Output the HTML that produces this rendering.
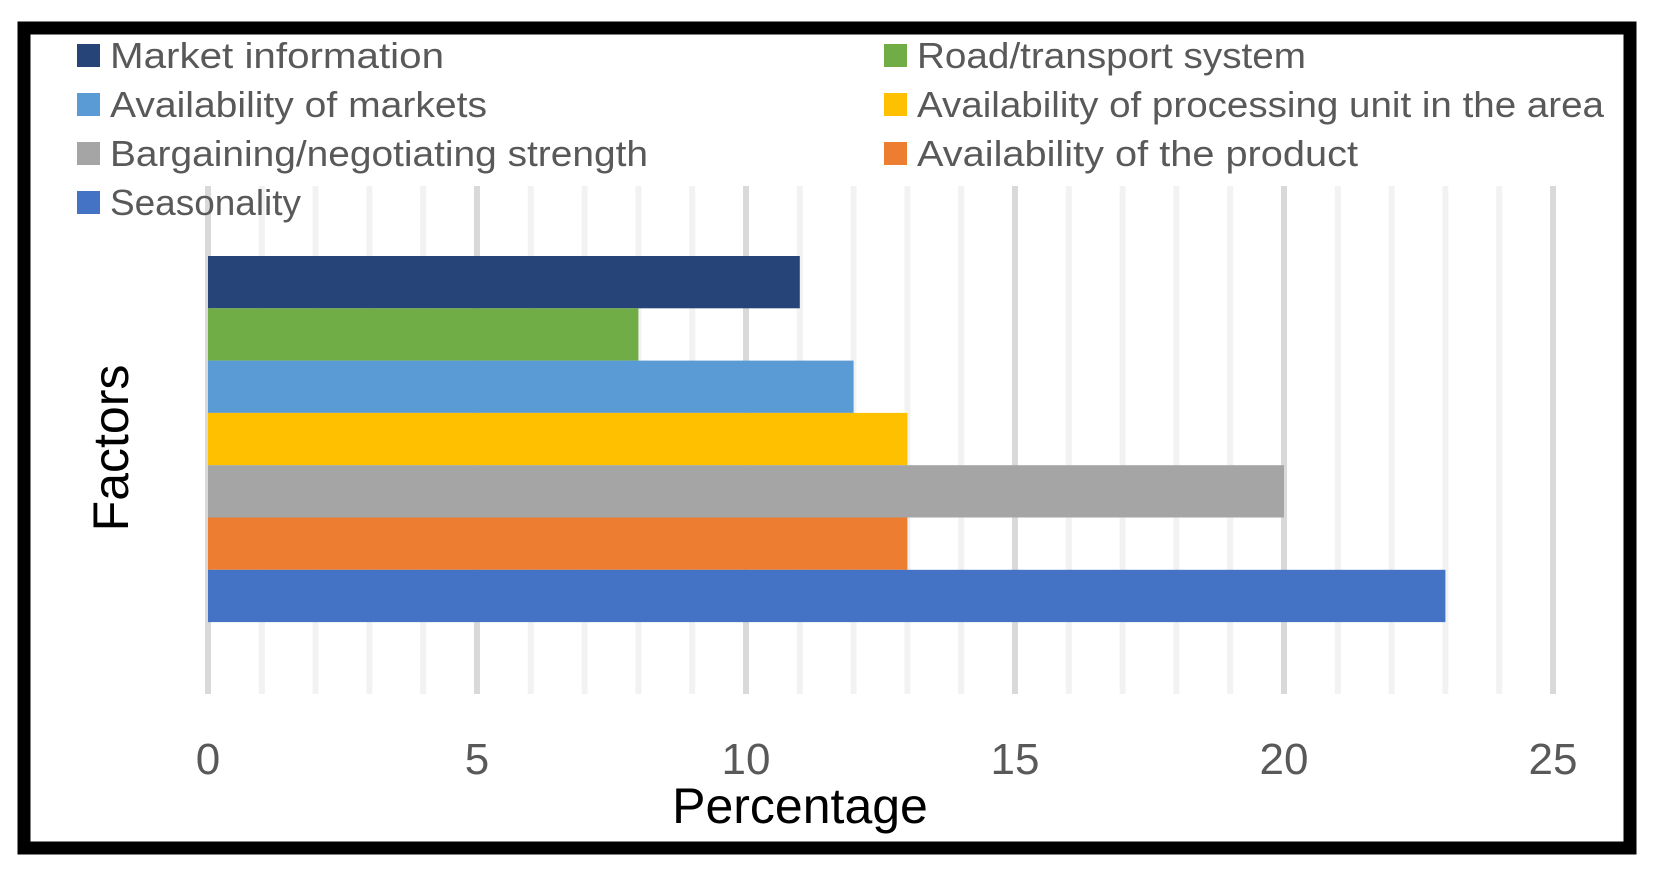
<!DOCTYPE html>
<html><head><meta charset="utf-8"><style>
body{margin:0;background:#fff;}
svg{display:block;font-family:"Liberation Sans",sans-serif;}
</style></head><body>
<svg id="chart" width="1656" height="876" viewBox="0 0 1656 876">
<rect x="24" y="28" width="1606" height="820" fill="#fff" stroke="#000" stroke-width="13"/>
<g id="grid"></g>
<g id="bars"></g>
<g id="ticks"></g>
<g id="legend"></g>
<text x="800" y="823" font-size="50" text-anchor="middle" fill="#000">Percentage</text>
<text transform="translate(128,448) rotate(-90)" font-size="50" text-anchor="middle" fill="#000">Factors</text>
</svg>
<script>
const categories=["Market information","Road/transport system","Availability of markets","Availability of processing unit in the area","Bargaining/negotiating strength","Availability of the product","Seasonality"];
const values=[11,8,12,13,20,13,23];
const colors=["#264478","#70AD47","#5B9BD5","#FFC000","#A5A5A5","#ED7D31","#4472C4"];
const tickLabels=[0,5,10,15,20,25];
const NS="http://www.w3.org/2000/svg";
const x0=208,unit=53.8,gTop=186,gBot=694,barTop=256,barH=52.3;
const X=v=>x0+v*unit;
function mk(tag,attrs,parent){const e=document.createElementNS(NS,tag);for(const k in attrs)e.setAttribute(k,attrs[k]);document.getElementById(parent).appendChild(e);return e;}
for(let i=0;i<=25;i++){
  const l=mk("line",{x1:X(i),x2:X(i),y1:gTop,y2:gBot,stroke:i%5==0?"#d9d9d9":"#f2f2f2","stroke-width":6},"grid");
  
  
}
values.forEach((v,i)=>{
  const r=mk("rect",{x:X(0),y:barTop+i*barH,width:X(v)-X(0),height:barH,fill:colors[i]},"bars");
  
  
});
tickLabels.forEach(t=>{
  const e=mk("text",{x:X(t),y:774,"font-size":44,"text-anchor":"middle",fill:"#595959"},"ticks");
  e.textContent=t;
  
  
});
const order=[0,2,4,6,1,3,5];
const widths=[334,377,538,191,389,687,441];
order.forEach((ci,k)=>{
  const col=k<4?0:1,row=k<4?k:k-4;
  const lx=col?884:77, ly=55+row*49;
  const s=mk("rect",{x:lx,y:ly-11,width:23,height:23,fill:colors[ci]},"legend");
  
  
  const t=mk("text",{x:lx+33,y:ly+13,"font-size":36,fill:"#595959",textLength:widths[k],lengthAdjust:"spacingAndGlyphs"},"legend");
  t.textContent=categories[ci];
  
  
});
</script>
</body></html>
